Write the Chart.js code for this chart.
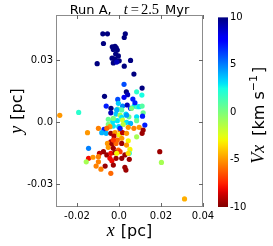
<!DOCTYPE html>
<html><head><meta charset="utf-8">
<script src="https://cdn.jsdelivr.net/npm/chart.js@4"></script>
<style>html,body{margin:0;padding:0;background:#fff}canvas{display:block}</style>
</head><body>
<canvas id="c" width="273" height="246"></canvas>
<script>
// star positions [pc]
const xs = [
 -0.0077,-0.0055,0.0030,0.0025,-0.0074,-0.0032,-0.0019,-0.0013,-0.0027,-0.0008,-0.0016,-0.0003,-0.0033,-0.0020,-0.0009,0.0001,-0.0027,-0.0011,-0.0104,0.0025,0.0055,0.0071,0.0024,0.0035,0.0041,0.0110,-0.0069,0.0084,0.0109,
 -0.0006,0.0066,0.0024,-0.0061,-0.0038,-0.0039,-0.0006,0.0017,0.0039,0.0055,0.0072,0.0086,0.0076,0.0096,0.0110,0.0115,
 -0.0192,-0.0282,-0.0014,0.0005,0.0013,0.0033,0.0047,0.0084,0.0112,-0.0051,-0.0030,-0.0008,0.0017,0.0036,0.0055,0.0084,0.0123,
 -0.0051,-0.0027,-0.0001,0.0020,0.0044,0.0071,0.0096,0.0115,0.0110,-0.0098,-0.0071,-0.0150,-0.0082,-0.0061,-0.0039,-0.0019,0.0005,
 -0.0024,0.0001,0.0017,0.0036,0.0084,0.0013,-0.0008,0.0044,-0.0039,-0.0055,-0.0034,-0.0014,0.0013,0.0036,-0.0145,-0.0051,-0.0027,-0.0003,0.0052,0.0049,
 0.0194,-0.0074,-0.0093,-0.0058,-0.0039,-0.0019,0.0005,0.0028,-0.0145,-0.0124,-0.0156,-0.0098,-0.0043,-0.0014,0.0013,0.0049,0.0202,-0.0098,-0.0034,-0.0066,-0.0109,-0.0086,-0.0027,0.0028,0.0033,-0.0039,0.0312,
 -0.0003,0.0013,-0.0011,-0.0027,0.0060,0.0036,-0.0043,-0.0058,0.0005,-0.0027,-0.0011,0.0044
];
const ys = [
 0.0429,0.0429,0.0429,0.0411,0.0382,0.0366,0.0368,0.0361,0.0353,0.0350,0.0331,0.0322,0.0311,0.0306,0.0298,0.0298,0.0288,0.0292,0.0284,0.0272,0.0300,0.0234,0.0184,0.0148,0.0134,0.0166,0.0126,0.0148,0.0132,
 0.0111,0.0113,0.0121,0.0079,0.0068,0.0046,0.0064,0.0079,0.0084,0.0068,0.0079,0.0076,0.0095,0.0076,0.0079,0.0046,
 0.0048,0.0034,0.0040,0.0035,0.0024,0.0040,0.0027,0.0027,0.0030,0.0015,0.0003,0.0008,0.0011,0.0000,-0.0005,0.0008,-0.0013,
 -0.0010,-0.0018,-0.0021,-0.0010,-0.0024,-0.0029,-0.0024,-0.0037,-0.0053,-0.0029,-0.0034,-0.0050,-0.0050,-0.0053,-0.0053,-0.0050,-0.0037,
 -0.0066,-0.0061,-0.0050,-0.0053,-0.0070,-0.0077,-0.0086,-0.0089,-0.0094,-0.0102,-0.0105,-0.0102,-0.0102,-0.0110,-0.0126,-0.0121,-0.0126,-0.0134,-0.0131,-0.0150,
 -0.0142,-0.0142,-0.0150,-0.0158,-0.0150,-0.0147,-0.0142,-0.0158,-0.0174,-0.0169,-0.0191,-0.0166,-0.0174,-0.0174,-0.0174,-0.0179,-0.0194,-0.0191,-0.0186,-0.0212,-0.0212,-0.0227,-0.0207,-0.0218,-0.0231,-0.0247,-0.0371,
 0.0092,0.0060,0.0060,0.0019,0.0068,0.0035,-0.0021,-0.0029,-0.0029,-0.0086,-0.0150,-0.0150
];
// Vx [km/s]
const vx = [
 10,10,10,10,10,10,10,10,10,10,10,10,10,10,10,10,10,9,10,10,10,10,6,10,9,10,10,2,2.5,
 6,7,8,7,10,9,1,5,9,7,3,1.5,7,3,1,0.5,
 2,-5,3.5,-1,3,3,0.5,3,7,0.5,3,3,-2,3,4,0.5,7,
 0,3,3.5,-1.5,-5,-5.5,-5,-9.5,-9.5,-5.5,7,-5,4,4,-9.5,-5,-5.5,
 -9,-3,-9,-5,-1,-5,-6,-3,-9,-5,-9.5,-6,-9.5,-5,5,-5,-9.5,-6,-3,2,
 -9.5,-9.5,-9,-9.5,-8,-9.5,-7,-9.5,-8,-5,-1,-5.5,-8,-9.5,-9.5,-9.5,-1,-5.5,-8,-9.5,-5.5,-5.5,-9.5,-9.5,-9.5,-6,-4.5,
 3.5,1,4,0,0,4.5,-5,-6,7,-7,-3,-3.5
];
const xTicks = [-0.02, 0.0, 0.02, 0.04];
const yTicks = [-0.03, 0.0, 0.03];
const cbTicks = [-10, -5, 0, 5, 10];
const vMin = -10, vMax = 10;

function interp(t, pts){
  for (let i=1;i<pts.length;i++){
    if (t <= pts[i][0]) {
      const [x0,y0]=pts[i-1],[x1,y1]=pts[i];
      return y0 + (y1-y0)*(t-x0)/(x1-x0);
    }
  }
  return pts[pts.length-1][1];
}
// reversed jet: high value -> dark blue
function jetR(v){
  let t = (v - vMin)/(vMax - vMin);
  t = 1 - Math.max(0, Math.min(1, t));
  const r = interp(t,[[0,0],[0.35,0],[0.66,1],[0.89,1],[1,0.5]]);
  const g = interp(t,[[0,0],[0.125,0],[0.375,1],[0.64,1],[0.91,0],[1,0]]);
  const b = interp(t,[[0,0.5],[0.11,1],[0.34,1],[0.65,0],[1,0]]);
  return `rgb(${Math.round(r*255)},${Math.round(g*255)},${Math.round(b*255)})`;
}
const fmt = v => (Math.abs(v) < 1e-12 ? '0.0' : v.toFixed(2));

function drawRich(ctx, segs, cx, cy, rot){
  ctx.save();
  ctx.translate(cx, cy); ctx.rotate(rot);
  let w = 0;
  segs.forEach(s => { ctx.font = s.f; s.w = ctx.measureText(s.t).width; w += s.w + (s.g || 0); });
  let x = -w/2;
  ctx.textAlign = 'left'; ctx.textBaseline = 'alphabetic'; ctx.fillStyle = '#000';
  segs.forEach(s => { ctx.font = s.f; ctx.fillText(s.t, x, s.dy || 0); x += s.w + (s.g || 0); });
  ctx.restore();
}

const SANS = 'DejaVu Sans', SERIF = 'Liberation Serif';
const deco = {
  id: 'deco',
  afterDraw(chart){
    const ctx = chart.ctx, a = chart.chartArea;
    const sx = chart.scales.x, sy = chart.scales.y, cb = chart.scales.cb;
    ctx.save();
    // frame
    ctx.strokeStyle = '#8c8c8c'; ctx.lineWidth = 1;
    ctx.strokeRect(Math.round(a.left)+0.5, Math.round(a.top)+0.5, Math.round(a.right-a.left)-1, Math.round(a.bottom-a.top)-1);
    // inward ticks
    ctx.strokeStyle = '#666';
    ctx.beginPath();
    xTicks.forEach(v => { const p = Math.round(sx.getPixelForValue(v))+0.5;
      ctx.moveTo(p, a.bottom); ctx.lineTo(p, a.bottom-4); ctx.moveTo(p, a.top); ctx.lineTo(p, a.top+4); });
    yTicks.forEach(v => { const p = Math.round(sy.getPixelForValue(v))+0.5;
      ctx.moveTo(a.left, p); ctx.lineTo(a.left+4, p); ctx.moveTo(a.right, p); ctx.lineTo(a.right-4, p); });
    ctx.stroke();
    // colorbar
    const yT = cb.getPixelForValue(vMax), yB = cb.getPixelForValue(vMin);
    const cx0 = a.right + 15, cw = 10;
    const grad = ctx.createLinearGradient(0, yB, 0, yT);
    for (let i=0;i<=40;i++){ const v = vMin + (vMax-vMin)*i/40; grad.addColorStop(i/40, jetR(v)); }
    ctx.fillStyle = grad;
    ctx.fillRect(cx0, yT, cw, yB - yT);
    ctx.fillStyle = '#000'; ctx.font = `10px ${SANS}`; ctx.textAlign = 'left'; ctx.textBaseline = 'middle';
    cbTicks.forEach(v => { const p = cb.getPixelForValue(v); ctx.fillText(String(v), cx0 + cw + 2, p); });
    ctx.restore();
    // title
    drawRich(ctx, [
      {t:'Run A,', f:`13px ${SANS}`, g:12},
      {t:'t', f:`italic 14.5px ${SERIF}`, g:3},
      {t:'=', f:`14.5px ${SERIF}`, g:2},
      {t:'2.5', f:`14.5px ${SERIF}`, g:6},
      {t:'Myr', f:`13px ${SANS}`}
    ], (a.left+a.right)/2, 14, 0);
    // x label
    drawRich(ctx, [
      {t:'x', f:`italic 18px ${SERIF}`, g:6},
      {t:'[pc]', f:`16px ${SANS}`}
    ], (a.left+a.right)/2, 236, 0);
    // y label
    drawRich(ctx, [
      {t:'y', f:`italic 18px ${SERIF}`, g:6},
      {t:'[pc]', f:`16px ${SANS}`}
    ], 22, (a.top+a.bottom)/2, -Math.PI/2);
    // colorbar label
    drawRich(ctx, [
      {t:'Vx', f:`italic 18px ${SERIF}`, g:9},
      {t:'[km s', f:`16px ${SANS}`},
      {t:'\u22121', f:`11px ${SANS}`, dy:-7, g:2},
      {t:']', f:`16px ${SANS}`}
    ], 264, (yT+yB)/2 + 3, -Math.PI/2);
  }
};

new Chart(document.getElementById('c'), {
  type: 'scatter',
  data: { datasets: [{
    data: xs.map((x, i) => ({x, y: ys[i]})),
    backgroundColor: vx.map(jetR),
    pointRadius: 2.6, pointHoverRadius: 2.6, borderWidth: 0
  }]},
  options: {
    responsive: false, animation: false, devicePixelRatio: 1,
    layout: { padding: { top: 15, left: 0, right: 0, bottom: 0 } },
    plugins: { legend: {display:false}, tooltip: {enabled:false}, title: {display:false} },
    scales: {
      x: {
        type: 'linear', min: -0.03, max: 0.04,
        afterBuildTicks: s => { s.ticks = xTicks.map(v => ({value: v})); },
        afterFit: s => { s.height = 39; },
        grid: {display:false, drawTicks:false}, border: {display:false},
        ticks: { callback: fmt, color:'#000', font:{family:SANS, size:10}, padding:3, maxRotation:0, autoSkip:false }
      },
      y: {
        type: 'linear', min: -0.041, max: 0.052,
        afterBuildTicks: s => { s.ticks = yTicks.map(v => ({value: v})); },
        afterFit: s => { s.width = 56; },
        grid: {display:false, drawTicks:false}, border: {display:false},
        ticks: { callback: fmt, color:'#000', font:{family:SANS, size:10}, padding:3, autoSkip:false }
      },
      cb: {
        type: 'linear', position: 'right', min: vMin, max: 10.25,
        afterFit: s => { s.width = 70; },
        grid: {display:false, drawTicks:false}, border: {display:false},
        ticks: {display:false}
      }
    }
  },
  plugins: [deco]
});
</script>
</body></html>
